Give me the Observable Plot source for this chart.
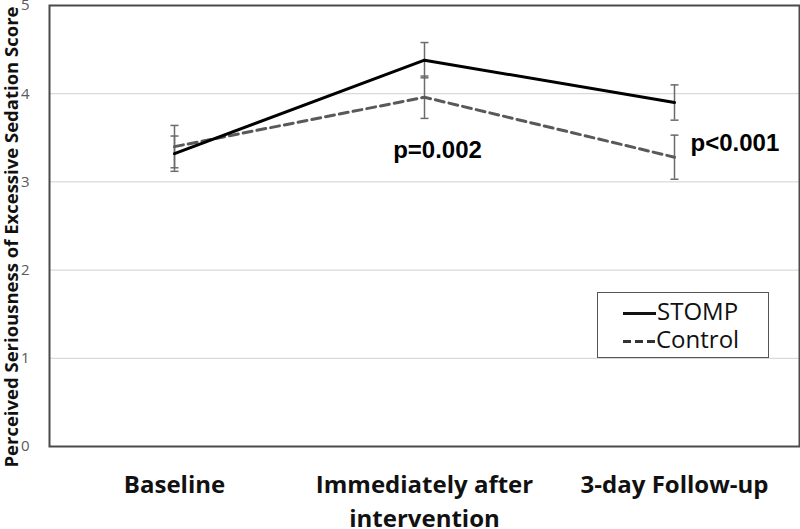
<!DOCTYPE html>
<html>
<head>
<meta charset="utf-8">
<script src="https://cdn.jsdelivr.net/npm/d3@7"></script>
<script src="https://cdn.jsdelivr.net/npm/@observablehq/plot@0.6"></script>
<style>
  html, body { margin: 0; padding: 0; background: #fff; }
  #wrap { position: relative; width: 800px; height: 529px; overflow: hidden; }
  #legend {
    position: absolute; left: 597px; top: 292px; width: 170px; height: 64px;
    border: 1.5px solid #555; background: #fff;
    font-family: "Open Sans", sans-serif; font-size: 24px; color: #111;
    box-sizing: content-box;
  }
  #legend .row { position: absolute; left: 25px; height: 28px; line-height: 28px; white-space: nowrap; }
  #legend .solid { display: inline-block; width: 33px; height: 3px; background: #111; vertical-align: middle; margin-right: 1px; }
  #legend .dash { display: inline-block; width: 8px; height: 2.5px; background: #333; vertical-align: middle; margin-right: 4px; }
</style>
</head>
<body>
<div id="wrap"></div>
<script>
const categories = ["Baseline", "Immediately after\nintervention", "3-day Follow-up"];
const stomp = [3.32, 4.38, 3.90];
const stompErr = [0.20, 0.20, 0.20];
const control = [3.40, 3.96, 3.28];
const controlErr = [0.24, 0.24, 0.25];
const yTicks = [0, 1, 2, 3, 4, 5];
const yLabel = "Perceived Seriousness of Excessive Sedation Score";
const pLabels = ["p=0.002", "p<0.001"];
const pCategories = [categories[1], categories[2]];
const seriesNames = ["STOMP", "Control"];

const rows = [];
categories.forEach((c, i) => {
  rows.push({cat: c, series: "STOMP", v: stomp[i], e: stompErr[i]});
  rows.push({cat: c, series: "Control", v: control[i], e: controlErr[i]});
});
const sRows = rows.filter(d => d.series === "STOMP");
const cRows = rows.filter(d => d.series === "Control");

const errColor = "#6b6b6b";
const capSymbol = {
  draw(context, size) {
    const w = Math.sqrt(size / Math.PI);
    context.moveTo(-w, 0);
    context.lineTo(w, 0);
  }
};

const chart = Plot.plot({
  width: 800,
  height: 529,
  marginLeft: 49,
  marginRight: 1,
  marginTop: 5,
  marginBottom: 83,
  style: {fontFamily: "Open Sans, sans-serif", background: "#fff", overflow: "visible"},
  x: {type: "point", domain: categories, padding: 0.5},
  y: {domain: [0, 5]},
  marks: [
    Plot.gridY([1, 2, 3, 4], {stroke: "#d0d0d0", strokeOpacity: 1, strokeWidth: 1}),
    Plot.axisY({ticks: yTicks, tickFormat: d => String(d), tickSize: 0, tickPadding: 20, fontSize: 15, fill: "#595959", label: null}),
    Plot.axisX({tickSize: 0, tickPadding: 23, fontSize: 24, fontWeight: "bold", fill: "#111", lineHeight: 1.4, label: null}),
    Plot.text([yLabel], {frameAnchor: "left", textAnchor: "middle", rotate: -90, dx: -37, dy: 11, fontSize: 18.5, fontWeight: "bold", fill: "#111"}),
    // error bars
    Plot.ruleX(rows, {x: "cat", y1: d => d.v - d.e, y2: d => d.v + d.e, stroke: errColor, strokeWidth: 1.5}),
    Plot.dot(rows, {x: "cat", y: d => d.v - d.e, symbol: capSymbol, r: 4, stroke: errColor, strokeWidth: 1.5, fill: "none"}),
    Plot.dot(rows, {x: "cat", y: d => d.v + d.e, symbol: capSymbol, r: 4, stroke: errColor, strokeWidth: 1.5, fill: "none"}),
    // lines
    Plot.line(cRows, {x: "cat", y: "v", stroke: "#595959", strokeWidth: 3, strokeDasharray: "9,5"}),
    Plot.line(sRows, {x: "cat", y: "v", stroke: "#000", strokeWidth: 3}),
    // p-values
    Plot.text([pLabels[0]], {x: () => pCategories[0], y: () => 3.36, dx: 13, fontFamily: "Liberation Sans, Arial, sans-serif", fontWeight: "bold", fontSize: 24, fill: "#000"}),
    Plot.text([pLabels[1]], {x: () => pCategories[1], y: () => 3.44, dx: 16, textAnchor: "start", fontFamily: "Liberation Sans, Arial, sans-serif", fontWeight: "bold", fontSize: 24, fill: "#000"}),
    Plot.frame({stroke: "#4a4a4a", strokeWidth: 2})
  ]
});
const wrap = document.getElementById("wrap");
wrap.appendChild(chart);

const legend = document.createElement("div");
legend.id = "legend";
const l1 = document.createElement("div");
l1.className = "row";
l1.style.top = "4px";
l1.innerHTML = '<span class="solid"></span>';
l1.appendChild(document.createTextNode(seriesNames[0]));
const l2 = document.createElement("div");
l2.className = "row";
l2.style.top = "32px";
l2.innerHTML = '<span class="dash"></span><span class="dash"></span><span class="dash" style="margin-right:1px"></span>';
l2.appendChild(document.createTextNode(seriesNames[1]));
legend.appendChild(l1);
legend.appendChild(l2);
wrap.appendChild(legend);
</script>
</body>
</html>
